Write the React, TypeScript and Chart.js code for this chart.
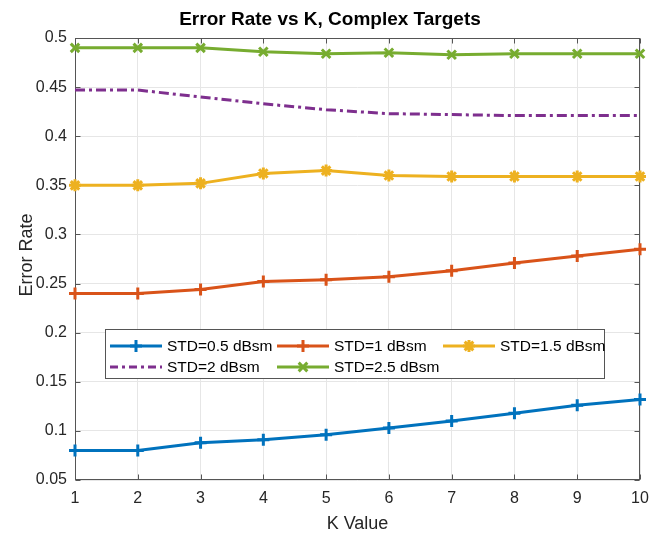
import React, { useEffect, useRef } from "react";
import { Chart, registerables } from "chart.js";
Chart.register(...registerables);

const kValues = [1, 2, 3, 4, 5, 6, 7, 8, 9, 10];
const std05 = [0.08, 0.08, 0.088, 0.091, 0.096, 0.103, 0.11, 0.118, 0.126, 0.132];
const std1 = [0.24, 0.24, 0.244, 0.252, 0.254, 0.257, 0.263, 0.271, 0.278, 0.285];
const std15 = [0.35, 0.35, 0.352, 0.362, 0.365, 0.36, 0.359, 0.359, 0.359, 0.359];
const std2 = [0.447, 0.447, 0.44, 0.433, 0.427, 0.423, 0.422, 0.421, 0.421, 0.421];
const std25 = [0.49, 0.49, 0.49, 0.486, 0.484, 0.485, 0.483, 0.484, 0.484, 0.484];
const seriesLabels = ["STD=0.5 dBsm", "STD=1 dBsm", "STD=1.5 dBsm", "STD=2 dBsm", "STD=2.5 dBsm"];
const seriesColors = ["#0072BD", "#D95319", "#EDB120", "#7E2F8E", "#77AC30"];
const seriesMarkers: (string | false)[] = ["cross", "cross", "star", false, "crossRot"];
const yTickLabels = ["0.05", "0.1", "0.15", "0.2", "0.25", "0.3", "0.35", "0.4", "0.45", "0.5"];
const titleText = "Error Rate vs K, Complex Targets";
const xTitle = "K Value";
const yTitle = "Error Rate";

const FONT = "'Liberation Sans', Arial, sans-serif";
const AXIS = "#262626";
const BOX = "#555555";

function drawMarker(ctx: CanvasRenderingContext2D, style: string, x: number, y: number, r: number) {
  ctx.beginPath();
  if (style === "cross" || style === "star") {
    ctx.moveTo(x - r, y); ctx.lineTo(x + r, y);
    ctx.moveTo(x, y - r); ctx.lineTo(x, y + r);
  }
  if (style === "crossRot" || style === "star") {
    const d = r * 0.72;
    ctx.moveTo(x - d, y - d); ctx.lineTo(x + d, y + d);
    ctx.moveTo(x + d, y - d); ctx.lineTo(x - d, y + d);
  }
  ctx.stroke();
}

const framePlugin = {
  id: "frame",
  beforeDatasetsDraw(chart: any) {
    const { ctx, chartArea: a } = chart;
    ctx.save();
    ctx.strokeStyle = BOX;
    ctx.lineWidth = 1;
    const l = Math.round(a.left) + 0.5, r = Math.round(a.right) - 0.5;
    const t = Math.round(a.top) + 0.5, b = Math.round(a.bottom) - 0.5;
    ctx.strokeRect(l, t, r - l, b - t);
    const xs = chart.scales.x, ys = chart.scales.y;
    const tl = 5;
    ctx.beginPath();
    xs.ticks.forEach((tk: any) => {
      const px = Math.round(xs.getPixelForValue(tk.value)) + 0.5;
      ctx.moveTo(px, b); ctx.lineTo(px, b - tl);
      ctx.moveTo(px, t); ctx.lineTo(px, t + tl);
    });
    ys.ticks.forEach((tk: any) => {
      const py = Math.round(ys.getPixelForValue(tk.value)) + 0.5;
      ctx.moveTo(l, py); ctx.lineTo(l + tl, py);
      ctx.moveTo(r, py); ctx.lineTo(r - tl, py);
    });
    ctx.stroke();
    ctx.fillStyle = "#000";
    ctx.font = `bold 19px ${FONT}`;
    ctx.textAlign = "center";
    ctx.textBaseline = "middle";
    ctx.fillText(titleText, 330, 20);
    ctx.fillStyle = AXIS;
    ctx.font = `18px ${FONT}`;
    ctx.fillText(xTitle, (a.left + a.right) / 2, 524);
    ctx.save();
    ctx.translate(27, 255);
    ctx.rotate(-Math.PI / 2);
    ctx.fillText(yTitle, 0, 0);
    ctx.restore();
    ctx.restore();
  },
};

const legendPlugin = {
  id: "boxLegend",
  afterDraw(chart: any) {
    const { ctx } = chart;
    const x0 = 105, y0 = 329, w = 499, h = 49;
    ctx.save();
    ctx.fillStyle = "#fff";
    ctx.fillRect(x0, y0, w, h);
    ctx.strokeStyle = BOX;
    ctx.lineWidth = 1;
    ctx.strokeRect(x0 + 0.5, y0 + 0.5, w, h);
    const colX = [110, 277, 443];
    const rowY = [346, 367];
    ctx.font = `15.5px ${FONT}`;
    ctx.textBaseline = "middle";
    ctx.textAlign = "left";
    seriesLabels.forEach((lab, i) => {
      const cx = colX[i % 3], cy = rowY[Math.floor(i / 3)];
      ctx.strokeStyle = seriesColors[i];
      ctx.lineWidth = 3;
      ctx.setLineDash(i === 3 ? [8, 4, 3, 4] : []);
      ctx.beginPath();
      ctx.moveTo(cx, cy); ctx.lineTo(cx + 52, cy);
      ctx.stroke();
      ctx.setLineDash([]);
      const m = seriesMarkers[i];
      if (m) drawMarker(ctx, m, cx + 26, cy, 6);
      ctx.fillStyle = "#000";
      ctx.fillText(lab, cx + 57, cy + 1);
    });
    ctx.restore();
  },
};

export default function App() {
  const ref = useRef<HTMLCanvasElement>(null);
  useEffect(() => {
    const all = [std05, std1, std15, std2, std25];
    const chart = new Chart(ref.current!, {
      type: "line",
      data: {
        labels: kValues,
        datasets: all.map((d, i) => ({
          label: seriesLabels[i],
          data: kValues.map((k, j) => ({ x: k, y: d[j] })),
          borderColor: seriesColors[i],
          backgroundColor: seriesColors[i],
          borderWidth: 3,
          borderDash: i === 3 ? [10, 4, 3, 4] : [],
          pointStyle: seriesMarkers[i] || "circle",
          pointRadius: seriesMarkers[i] ? 6 : 0,
          pointBorderWidth: 3,
          tension: 0,
          clip: 8,
        })),
      },
      options: {
        animation: false,
        responsive: false,
        layout: { padding: { top: 38, right: 8, left: 0, bottom: 0 } },
        plugins: { legend: { display: false }, title: { display: false }, tooltip: { enabled: false } },
        scales: {
          x: {
            type: "linear",
            min: 1,
            max: 10,
            afterFit: (s: any) => { s.height = 53; s.paddingLeft = 0; s.paddingRight = 0; },
            ticks: { stepSize: 1, color: AXIS, font: { family: FONT, size: 16 }, padding: 9 },
            grid: { color: "#e6e6e6", drawTicks: false },
            border: { display: false },
          },
          y: {
            type: "linear",
            min: 0.05,
            max: 0.5,
            afterFit: (s: any) => { s.width = 75; s.paddingTop = 0; s.paddingBottom = 0; },
            ticks: {
              stepSize: 0.05,
              color: AXIS,
              font: { family: FONT, size: 16 },
              padding: 8,
              callback: (_v: any, idx: number) => yTickLabels[idx],
            },
            grid: { color: "#e6e6e6", drawTicks: false },
            border: { display: false },
          },
        },
      },
      plugins: [framePlugin, legendPlugin],
    });
    return () => chart.destroy();
  }, []);
  return (
    <div style={{ position: "fixed", left: 0, top: 0, width: 649, height: 533, background: "#fff" }}>
      <canvas ref={ref} width={649} height={533} />
    </div>
  );
}
